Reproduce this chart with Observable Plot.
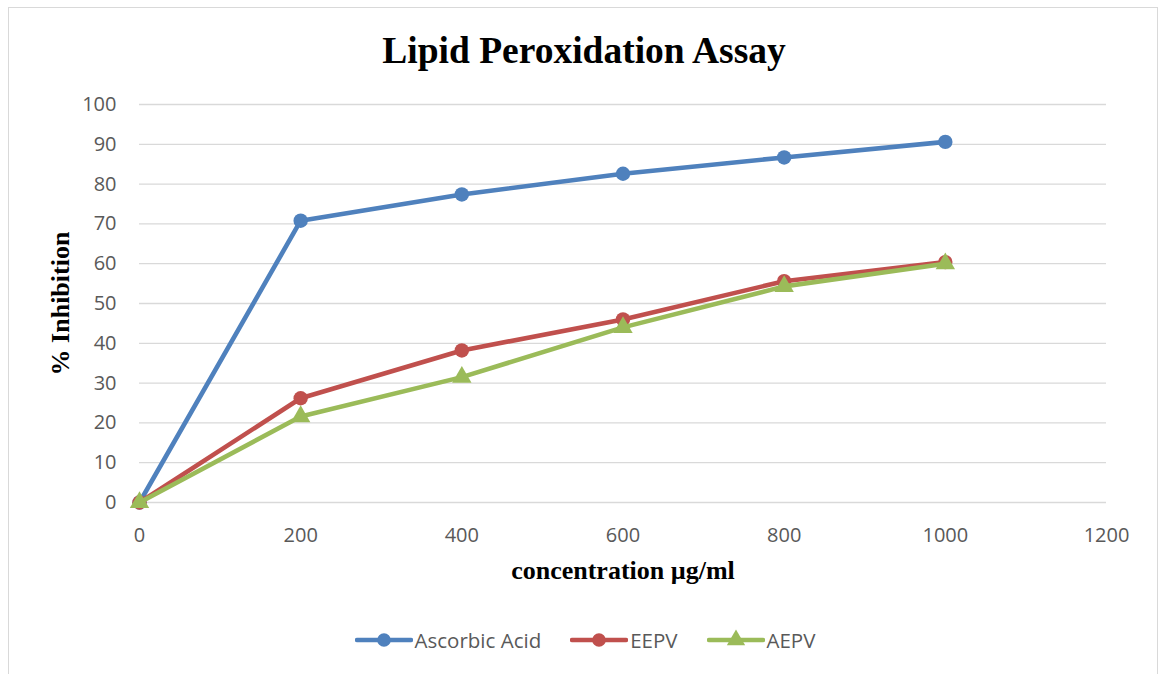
<!DOCTYPE html>
<html>
<head>
<meta charset="utf-8">
<script src="https://cdn.jsdelivr.net/npm/d3@7"></script>
<script src="https://cdn.jsdelivr.net/npm/@observablehq/plot@0.6"></script>
<style>
  html, body { margin: 0; padding: 0; background: #fff; }
  body { width: 1160px; height: 674px; overflow: hidden; position: relative; font-family: "Open Sans", sans-serif; }
  #frame { position: absolute; left: 8px; top: 7px; width: 1150px; height: 720px; border: 1.5px solid #d9d9d9; box-sizing: border-box; }
  #title { position: absolute; left: 4px; top: 32px; width: 1160px; text-align: center; font: bold 37.5px/37px "Liberation Serif", "Times New Roman", serif; color: #000; }
  #chart { position: absolute; left: 0; top: 80px; }
  #legend { position: absolute; left: 5px; top: 628px; width: 1160px; display: flex; justify-content: center; align-items: center; font-size: 20.5px; line-height: 24px; color: #595959; }
  .item { display: flex; align-items: center; }
  .item + .item { margin-left: 29px; }
  .item svg { margin-right: 2px; }
</style>
</head>
<body>
<div id="frame"></div>
<div id="title">Lipid Peroxidation Assay</div>
<div id="chart"></div>
<div id="legend"></div>
<script>
// Concentrations tested (µg/ml) and % inhibition for each sample
const concentrations = [0, 200, 400, 600, 800, 1000];
const ascorbicAcid = [0, 70.8, 77.4, 82.6, 86.7, 90.6];
const eepv = [0, 26.2, 38.2, 46.0, 55.6, 60.4];
const aepv = [0, 21.6, 31.5, 44.0, 54.3, 60.0];

const seriesNames = ["Ascorbic Acid", "EEPV", "AEPV"];
const xTicks = [0, 200, 400, 600, 800, 1000, 1200];
const yTicks = [0, 10, 20, 30, 40, 50, 60, 70, 80, 90, 100];

const seriesColors = ["#4F81BD", "#C0504D", "#9BBB59"];
const seriesSymbols = ["circle", "circle", "triangle"];

const seriesValues = [ascorbicAcid, eepv, aepv];
const rows = seriesNames.flatMap((name, s) =>
  concentrations.map((c, i) => ({series: name, conc: c, value: seriesValues[s][i]}))
);

// Each series draws its line and then its markers, in series order
const seriesMarks = seriesNames.flatMap((name) => {
  const data = rows.filter((d) => d.series === name);
  return [
    Plot.line(data, {x: "conc", y: "value", stroke: "series", strokeWidth: 4.6, strokeLinejoin: "round", strokeLinecap: "round"}),
    Plot.dot(data, {x: "conc", y: "value", fill: "series", symbol: "series", r: 7.2, stroke: "none"})
  ];
});

const serif = "'Liberation Serif', 'Times New Roman', serif";

const chart = Plot.plot({
  width: 1160,
  height: 510,
  marginLeft: 139,
  marginRight: 54,
  marginTop: 24,
  marginBottom: 88,
  style: {fontFamily: "'Open Sans', sans-serif", fontSize: "20px", color: "#595959", background: "transparent", overflow: "visible"},
  x: {domain: [0, 1200]},
  y: {domain: [0, 100]},
  color: {domain: seriesNames, range: seriesColors},
  symbol: {domain: seriesNames, range: seriesSymbols},
  marks: [
    Plot.gridY(yTicks, {stroke: "#d9d9d9", strokeOpacity: 1, strokeWidth: 1.3}),
    Plot.axisY(yTicks, {tickSize: 0, tickPadding: 23, label: null, tickFormat: d3.format("d")}),
    Plot.axisX(xTicks, {tickSize: 0, tickPadding: 25, label: null, tickFormat: d3.format("d")}),
    Plot.text(["% Inhibition"], {frameAnchor: "left", textAnchor: "middle", lineAnchor: "middle", rotate: -90, dx: -79, fontSize: 26, fontWeight: "bold", fontFamily: serif, fill: "#000"}),
    Plot.text(["concentration µg/ml"], {frameAnchor: "bottom", textAnchor: "middle", lineAnchor: "middle", dy: 68, fontSize: 26, fontWeight: "bold", fontFamily: serif, fill: "#000"}),
    ...seriesMarks
  ]
});
document.getElementById("chart").appendChild(chart);

// Legend below the chart
const legend = d3.select("#legend");
seriesNames.forEach((name, i) => {
  const item = legend.append("div").attr("class", "item");
  const sw = item.append("svg").attr("width", 58).attr("height", 22);
  sw.append("line").attr("x1", 2).attr("x2", 56).attr("y1", 11).attr("y2", 11)
    .attr("stroke", seriesColors[i]).attr("stroke-width", 4.6).attr("stroke-linecap", "round");
  const sym = seriesSymbols[i] === "circle" ? d3.symbolCircle : d3.symbolTriangle;
  sw.append("path").attr("transform", "translate(29,11)")
    .attr("d", d3.symbol(sym, Math.PI * 6.8 * 6.8)()).attr("fill", seriesColors[i]);
  item.append("span").text(name);
});
</script>
</body>
</html>
